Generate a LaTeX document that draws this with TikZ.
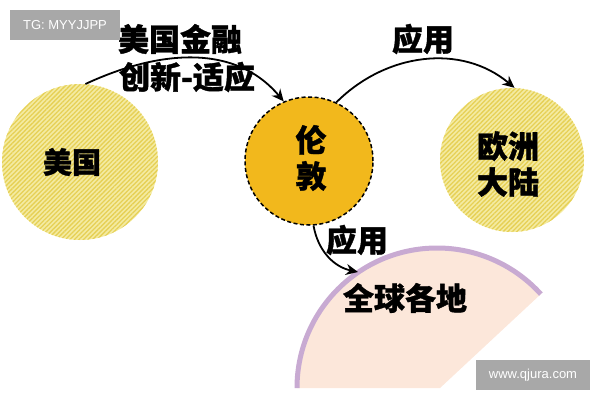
\documentclass[tikz,border=0pt]{standalone}
\usepackage{fontspec}
\setmainfont{Liberation Sans}
\newfontfamily\cjk{Noto Sans CJK SC}[BoldFeatures={FakeBold=1.2}]
\usetikzlibrary{patterns.meta,arrows.meta}
\definecolor{ylbase}{HTML}{F4EBA2}
\definecolor{ylstripe}{HTML}{E6D055}
\definecolor{gold}{HTML}{F2B81C}
\definecolor{pinkfill}{HTML}{FCE7DA}
\definecolor{purpleedge}{HTML}{C8AAD2}
\definecolor{wmgray}{HTML}{A8A8A8}
\begin{document}
\begin{tikzpicture}[x=1pt,y=1pt,
  lbl/.style={font=\cjk\bfseries\fontsize{31}{36}\selectfont, align=center, inner sep=0pt},
  stripecircle/.style={circle, fill=ylbase, postaction={pattern={Lines[angle=45,distance=3.2pt,line width=1.3pt]}, pattern color=ylstripe}, inner sep=0pt},
  hub/.style={circle, fill=gold, draw=black, line width=1.5pt, dash pattern=on 4pt off 2.5pt, inner sep=0pt},
  conn/.style={draw=black, line width=1.8pt, -{Stealth[length=12pt,width=11pt]}},
  wm/.style={fill=wmgray, text=white, font=\fontsize{13}{15}\selectfont, inner sep=0pt}
]
\useasboundingbox (0,0) rectangle (600,-400);
% globe shape
\begin{scope}
  \clip (280,-388) -- (440,-388) -- (600,-239) -- (280,-239) -- cycle;
  \fill[pinkfill] (437,-388) circle[radius=140];
  \draw[purpleedge, line width=5pt] (437,-388) circle[radius=140];
\end{scope}
\coordinate (globeend) at (358,-272);
% circles
\node[stripecircle, minimum size=156pt] (us) at (80,-162) {};
\node[stripecircle, minimum size=144pt] (eu) at (512,-160) {};
\node[hub, minimum size=128pt] (london) at (309,-161) {};
% connectors
\draw[conn] (us.86) to[out=25,in=130] (london.113);
\draw[conn] (london.65) to[out=45,in=140] (eu.88);
\draw[conn] (london.274) to[out=-80,in=168] (globeend);
% labels
\node[lbl, font=\cjk\bfseries\fontsize{29}{34}\selectfont] (tus) at (72,-162) {美国};
\node[lbl] (tlon) at (311,-158) {伦\\敦};
\node[lbl] (teu) at (508,-164) {欧洲\\大陆};
\node[lbl] (t1) at (180,-39) {美国金融};
\node[lbl] (t2) at (187,-77) {创新-适应};
\node[lbl] (t3) at (423,-39) {应用};
\node[lbl] (t4) at (357,-240) {应用};
\node[lbl] (t5) at (405,-298) {全球各地};
% watermarks
\node[wm, minimum width=110pt, minimum height=30pt] (wm1) at (65,-25) {TG: MYYJJPP};
\node[wm, minimum width=114pt, minimum height=30pt] (wm2) at (533,-375) {www.qjura.com};
\end{tikzpicture}
\end{document}
